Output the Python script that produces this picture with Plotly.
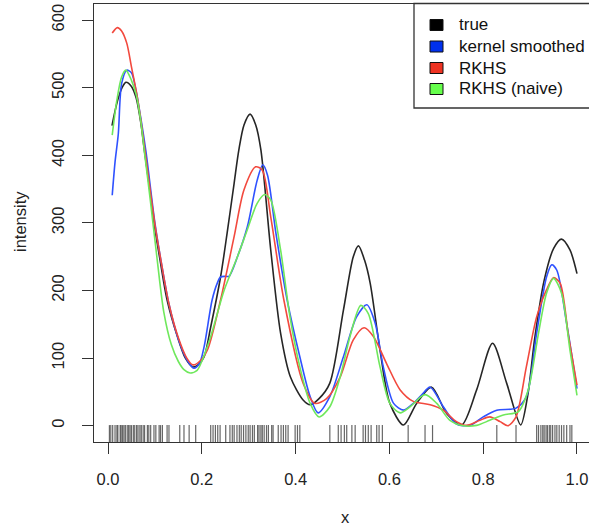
import plotly.graph_objects as go

# ---------------- data ----------------
true_x = [0.0085, 0.02, 0.03, 0.038, 0.05, 0.06, 0.07, 0.078, 0.09, 0.1, 0.111, 0.126, 0.148, 0.165,
          0.181, 0.195, 0.205, 0.219, 0.24, 0.254, 0.269, 0.279, 0.29, 0.303, 0.315, 0.326, 0.347,
          0.368, 0.389, 0.416, 0.431, 0.45, 0.473, 0.502, 0.523, 0.534, 0.547, 0.559, 0.58, 0.601,
          0.63, 0.658, 0.69, 0.722, 0.754, 0.786, 0.82, 0.85, 0.88, 0.895, 0.91, 0.93, 0.95, 0.967,
          0.985, 1.0]
true_y = [444, 480, 500, 508, 502, 485, 448, 405, 345, 292, 245, 186, 132, 100,
          87, 92, 102, 146, 220, 285, 359, 408, 445, 461, 445, 408, 260,
          137, 72, 38, 31, 40, 63, 171, 250, 266, 245, 211, 112, 33,
          1, 33, 57, 18, 1, 53, 122, 63, 1, 45, 130, 215, 262, 276,
          260, 225]

kernel_x = [0.009, 0.015, 0.022, 0.029, 0.04, 0.05, 0.06, 0.07, 0.081, 0.1, 0.114, 0.13, 0.15, 0.168,
            0.183, 0.195, 0.205, 0.222, 0.233, 0.24, 0.25, 0.258, 0.276, 0.297, 0.318, 0.33, 0.34,
            0.358, 0.382, 0.409, 0.431, 0.448, 0.473, 0.502, 0.53, 0.552, 0.57, 0.587, 0.609, 0.63,
            0.651, 0.668, 0.687, 0.715, 0.743, 0.772, 0.80, 0.829, 0.87, 0.892, 0.914, 0.935, 0.946,
            0.957, 0.978, 1.0]
kernel_y = [341, 390, 432, 506, 526, 522, 495, 455, 405, 300, 240, 180, 128, 98,
            85, 92, 117, 186, 211, 220, 221, 221, 250, 294, 363, 386, 371,
            285, 186, 102, 43, 19, 43, 102, 161, 179, 151, 87, 33, 23,
            33, 45, 57, 28, 2.5, 0.5, 13, 23, 26, 43, 137, 220, 238,
            230, 151, 55]

rkhs_x = [0.009, 0.02, 0.029, 0.04, 0.05, 0.061, 0.07, 0.08, 0.1, 0.114, 0.13, 0.15, 0.168, 0.181,
          0.195, 0.212, 0.24, 0.269, 0.29, 0.315, 0.329, 0.347, 0.375, 0.416, 0.441, 0.466, 0.495,
          0.523, 0.546, 0.566, 0.594, 0.623, 0.651, 0.687, 0.715, 0.743, 0.765, 0.793, 0.814, 0.836,
          0.853, 0.87, 0.892, 0.914, 0.935, 0.95, 0.964, 0.982, 1.0]
rkhs_y = [581, 589, 584, 566, 531, 492, 452, 400, 298, 240, 180, 130, 100, 90,
          95, 112, 186, 280, 349, 383, 378, 309, 186, 63, 33, 40, 72,
          127, 145, 132, 92, 53, 36, 31, 23, 6, 0.5, 8, 13, 6,
          0, 13, 87, 161, 201, 219, 211, 132, 60]

naive_x = [0.009, 0.019, 0.029, 0.038, 0.05, 0.06, 0.07, 0.078, 0.09, 0.105, 0.119, 0.135, 0.15, 0.162,
           0.175, 0.19, 0.198, 0.219, 0.248, 0.276, 0.297, 0.318, 0.334, 0.347, 0.368, 0.388, 0.409,
           0.431, 0.45, 0.473, 0.495, 0.516, 0.539, 0.555, 0.58, 0.601, 0.623, 0.644, 0.676, 0.701,
           0.729, 0.758, 0.786, 0.814, 0.843, 0.875, 0.896, 0.918, 0.935, 0.95, 0.967, 0.985, 1.0]
naive_y = [430, 482, 516, 526, 511, 490, 450, 403, 335, 245, 168, 120, 95, 83,
           78, 82, 92, 132, 201, 250, 290, 329, 342, 334, 260, 161, 87,
           33, 13, 28, 72, 132, 178, 166, 87, 33, 19, 28, 46, 33,
           8, 0, 0.5, 8, 16, 21, 53, 137, 196, 218, 196, 112, 45]

rug_x = [0.003, 0.006, 0.010, 0.015, 0.019, 0.021, 0.026, 0.028, 0.031, 0.034, 0.037, 0.041, 0.044,
         0.047, 0.050, 0.054, 0.057, 0.061, 0.064, 0.068, 0.071, 0.075, 0.078, 0.084, 0.087, 0.091,
         0.098, 0.102, 0.109, 0.112, 0.116, 0.126, 0.130, 0.153, 0.162, 0.173, 0.187, 0.219, 0.224,
         0.229, 0.234, 0.239, 0.251, 0.260, 0.265, 0.269, 0.275, 0.280, 0.284, 0.289, 0.294, 0.299,
         0.303, 0.308, 0.312, 0.319, 0.322, 0.326, 0.329, 0.333, 0.338, 0.342, 0.349, 0.352, 0.363,
         0.369, 0.374, 0.379, 0.384, 0.399, 0.404, 0.409, 0.473, 0.491, 0.497, 0.504, 0.509, 0.520,
         0.527, 0.544, 0.549, 0.555, 0.561, 0.573, 0.578, 0.585, 0.640, 0.676, 0.692, 0.829, 0.870,
         0.914, 0.918, 0.923, 0.927, 0.930, 0.934, 0.937, 0.941, 0.944, 0.948, 0.953, 0.957, 0.962,
         0.967, 0.972, 0.978, 0.985, 0.989]

series_names = ["true", "kernel smoothed", "RKHS", "RKHS (naive)"]
x_ticks = [0.0, 0.2, 0.4, 0.6, 0.8, 1.0]
x_ticklabels = ["0.0", "0.2", "0.4", "0.6", "0.8", "1.0"]
y_ticks = [0, 100, 200, 300, 400, 500, 600]

# ---------------- styling ----------------
line_colors = ["#262626", "#2f52ff", "#f2493e", "#6fe85c"]
legend_fills = ["#000000", "#0030ee", "#ee3322", "#66ff4c"]
FONT = "Liberation Sans, Arial, Helvetica, sans-serif"
AX = "#333333"
TICK_SIZE = 16.5

fig = go.Figure()

# rug (separate markers so overlapping ticks darken)
fig.add_trace(go.Scatter(
    x=rug_x, y=[-13.6] * len(rug_x), mode="markers", showlegend=False, hoverinfo="skip",
    marker=dict(symbol="line-ns-open", size=14,
                line=dict(width=1.2, color="rgba(0,0,0,0.6)"), color="rgba(0,0,0,0.6)"),
))

for xs, ys, name, col in [
    (true_x, true_y, series_names[0], line_colors[0]),
    (kernel_x, kernel_y, series_names[1], line_colors[1]),
    (rkhs_x, rkhs_y, series_names[2], line_colors[2]),
    (naive_x, naive_y, series_names[3], line_colors[3]),
]:
    fig.add_trace(go.Scatter(x=xs, y=ys, mode="lines", name=name, showlegend=False,
                             line=dict(color=col, width=1.6, shape="spline", smoothing=0.8)))

fig.update_xaxes(
    range=[-0.02985, 1.0256], tickvals=x_ticks, ticktext=x_ticklabels, automargin=False,
    ticks="outside", ticklen=11, tickwidth=1.3, tickcolor=AX,
    showline=True, linecolor=AX, linewidth=1.3, mirror=True,
    showgrid=False, zeroline=False, ticklabelstandoff=11,
    tickfont=dict(family=FONT, size=TICK_SIZE, color="#222"),
)
fig.update_yaxes(
    range=[-24.1, 623.9], tickvals=y_ticks, tickangle=-90, automargin=False,
    ticks="outside", ticklen=11, tickwidth=1.3, tickcolor=AX,
    showline=True, linecolor=AX, linewidth=1.3, mirror=False,
    showgrid=False, zeroline=False, ticklabelstandoff=11,
    tickfont=dict(family=FONT, size=TICK_SIZE, color="#222"),
)

W, H = 589, 529
ML, MR, MT, MB = 94, 0, 4, 87
PW, PH = W - ML - MR, H - MT - MB


def px(xpix):
    return (xpix - ML) / PW


def py(ypix):
    return (H - MB - ypix) / PH


annotations = [
    dict(text="x", x=px(345), y=py(517), xref="paper", yref="paper", showarrow=False,
         font=dict(family=FONT, size=TICK_SIZE, color="#222"), xanchor="center", yanchor="middle"),
    dict(text="intensity", x=px(20), y=py(222), xref="paper", yref="paper", showarrow=False,
         textangle=-90, font=dict(family=FONT, size=TICK_SIZE, color="#222"),
         xanchor="center", yanchor="middle"),
]
shapes = [
    dict(type="rect", xref="paper", yref="paper", x0=px(414), x1=px(600), y0=py(108), y1=py(3.5),
         line=dict(color=AX, width=1.3), fillcolor="white", layer="above"),
]
row_y = [25, 46.5, 68, 89]
for i, name in enumerate(series_names):
    shapes.append(dict(type="rect", xref="paper", yref="paper",
                       x0=px(430), x1=px(443), y0=py(row_y[i] + 5.5), y1=py(row_y[i] - 5.5),
                       line=dict(color="#111", width=1), fillcolor=legend_fills[i], layer="above"))
    annotations.append(dict(text=name, x=px(457), y=py(row_y[i]), xref="paper", yref="paper",
                            showarrow=False, xanchor="left", yanchor="middle",
                            font=dict(family=FONT, size=17, color="#111")))

fig.update_layout(
    width=W, height=H, margin=dict(l=ML, r=MR, t=MT, b=MB, pad=0, autoexpand=False),
    paper_bgcolor="white", plot_bgcolor="white",
    annotations=annotations, shapes=shapes, showlegend=False,
)

fig.write_html(
    "out.html",
    config={"displayModeBar": False},
    post_script="document.body.style.margin='0';document.body.style.padding='0';"
                "document.documentElement.style.overflow='hidden';",
)
